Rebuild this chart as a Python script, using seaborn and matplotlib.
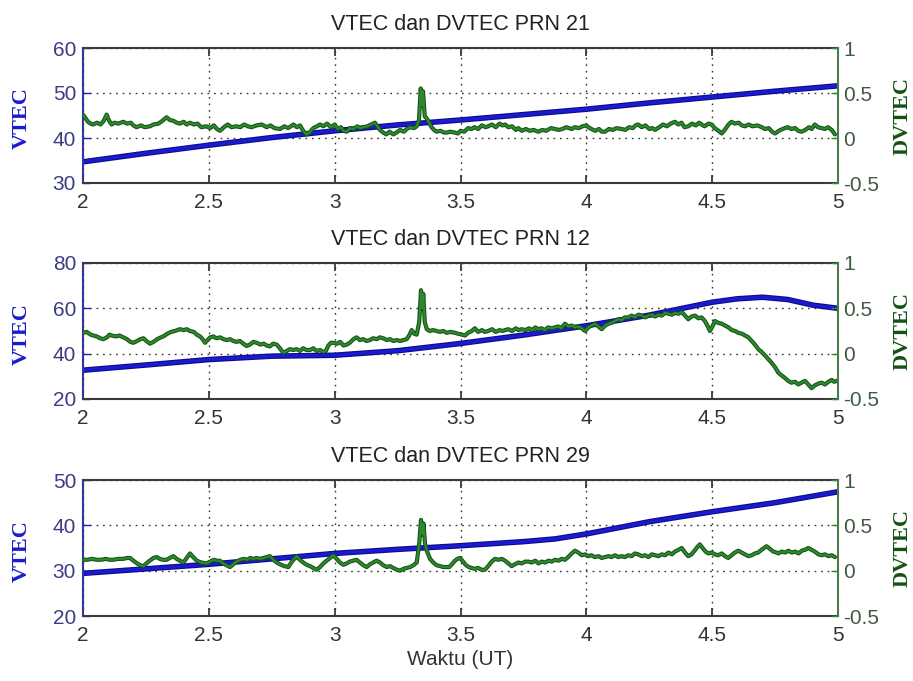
import numpy as np
import pandas as pd
import matplotlib
matplotlib.use("Agg")
import matplotlib.pyplot as plt
import matplotlib.patheffects as pe
import seaborn as sns

# ---------------- data ----------------
titles = ["VTEC dan DVTEC PRN 21", "VTEC dan DVTEC PRN 12", "VTEC dan DVTEC PRN 29"]

# VTEC (left axis)
vtec1_t = [2.0, 2.25, 2.5, 2.75, 3.0, 3.25, 3.5, 3.75, 4.0, 4.25, 4.5, 4.75, 5.0]
vtec1_v = [34.7, 36.6, 38.4, 40.1, 41.6, 42.9, 44.0, 45.2, 46.4, 47.8, 49.1, 50.4, 51.6]

vtec2_t = [2.0, 2.25, 2.5, 2.75, 3.0, 3.25, 3.5, 3.75, 4.0, 4.25, 4.5, 4.6, 4.7, 4.8, 4.9, 5.0]
vtec2_v = [32.7, 35.0, 37.4, 38.9, 39.3, 41.3, 44.5, 48.2, 52.3, 57.0, 62.7, 64.2, 64.9, 63.9, 61.4, 60.0]

vtec3_t = [2.0, 2.25, 2.5, 2.75, 3.0, 3.25, 3.5, 3.75, 3.875, 4.0, 4.25, 4.5, 4.75, 5.0]
vtec3_v = [29.4, 30.4, 31.4, 32.6, 33.8, 34.7, 35.5, 36.4, 37.0, 38.1, 40.8, 43.0, 45.0, 47.4]

# DVTEC (right axis)
dv1_t = [2.0, 2.01, 2.02, 2.03, 2.04, 2.055, 2.07, 2.082, 2.094, 2.104, 2.114, 2.125, 2.14, 2.16,
         2.175, 2.19, 2.2, 2.213, 2.23, 2.245, 2.266, 2.28, 2.3, 2.315, 2.332, 2.345, 2.36, 2.372,
         2.385, 2.4, 2.412, 2.425, 2.44, 2.455, 2.47, 2.49, 2.505, 2.52, 2.532, 2.544, 2.56, 2.575,
         2.59, 2.61, 2.625, 2.64, 2.655, 2.67, 2.69, 2.71, 2.73, 2.745, 2.76, 2.783, 2.8, 2.815,
         2.836, 2.85, 2.862, 2.875, 2.889, 2.9, 2.915, 2.93, 2.942, 2.955, 2.97, 2.985, 3.0, 3.012,
         3.025, 3.035, 3.048, 3.06, 3.075, 3.09, 3.1, 3.114, 3.13, 3.145, 3.16, 3.17, 3.18, 3.193,
         3.205, 3.218, 3.233, 3.245, 3.26, 3.275, 3.286, 3.3, 3.315, 3.326, 3.335, 3.342, 3.347,
         3.351, 3.358, 3.365, 3.372, 3.385, 3.395, 3.405, 3.42, 3.435, 3.445, 3.46, 3.478, 3.49,
         3.5, 3.515, 3.53, 3.544, 3.555, 3.57, 3.585, 3.6, 3.61, 3.625, 3.64, 3.655, 3.667, 3.677,
         3.69, 3.705, 3.72, 3.73, 3.743, 3.76, 3.775, 3.79, 3.809, 3.825, 3.84, 3.86, 3.875, 3.89,
         3.905, 3.92, 3.942, 3.955, 3.97, 3.985, 4.0, 4.008, 4.02, 4.035, 4.05, 4.062, 4.074, 4.09,
         4.105, 4.12, 4.14, 4.155, 4.17, 4.185, 4.195, 4.206, 4.22, 4.235, 4.25, 4.262, 4.273, 4.29,
         4.305, 4.32, 4.335, 4.352, 4.365, 4.378, 4.39, 4.405, 4.42, 4.435, 4.448, 4.458, 4.47,
         4.485, 4.498, 4.51, 4.525, 4.538, 4.55, 4.565, 4.577, 4.59, 4.605, 4.618, 4.63, 4.645,
         4.66, 4.68, 4.697, 4.71, 4.725, 4.738, 4.75, 4.765, 4.78, 4.8, 4.815, 4.83, 4.842, 4.855,
         4.87, 4.885, 4.895, 4.908, 4.92, 4.935, 4.948, 4.96, 4.975, 4.988]
dv1_v = [0.26, 0.22, 0.18, 0.16, 0.15, 0.17, 0.15, 0.19, 0.26, 0.19, 0.15, 0.17, 0.16, 0.18,
         0.16, 0.17, 0.14, 0.12, 0.14, 0.12, 0.13, 0.15, 0.16, 0.19, 0.23, 0.20, 0.19, 0.17,
         0.16, 0.18, 0.15, 0.17, 0.15, 0.16, 0.12, 0.13, 0.11, 0.14, 0.10, 0.08, 0.12, 0.15,
         0.12, 0.13, 0.12, 0.15, 0.13, 0.12, 0.14, 0.15, 0.12, 0.14, 0.11, 0.10, 0.13, 0.11,
         0.15, 0.12, 0.14, 0.08, 0.04, 0.06, 0.11, 0.13, 0.15, 0.13, 0.16, 0.12, 0.15, 0.10,
         0.12, 0.08, 0.07, 0.11, 0.10, 0.13, 0.11, 0.12, 0.13, 0.15, 0.17, 0.13, 0.09, 0.06,
         0.04, 0.07, 0.04, 0.06, 0.09, 0.07, 0.10, 0.12, 0.11, 0.13, 0.20, 0.55, 0.36,
         0.52, 0.24, 0.22, 0.19, 0.12, 0.09, 0.07, 0.08, 0.06, 0.06, 0.07, 0.06, 0.05,
         0.08, 0.07, 0.11, 0.10, 0.12, 0.10, 0.14, 0.12, 0.13, 0.15, 0.12, 0.16, 0.14, 0.15,
         0.12, 0.13, 0.09, 0.11, 0.08, 0.10, 0.08, 0.09, 0.07, 0.09, 0.08, 0.11, 0.10, 0.09,
         0.10, 0.12, 0.10, 0.12, 0.11, 0.13, 0.14, 0.12, 0.10, 0.08, 0.10, 0.07, 0.07, 0.10,
         0.09, 0.11, 0.10, 0.09, 0.12, 0.11, 0.14, 0.15, 0.12, 0.14, 0.10, 0.11, 0.09, 0.12,
         0.15, 0.13, 0.16, 0.18, 0.15, 0.17, 0.12, 0.13, 0.16, 0.14, 0.17, 0.15, 0.13,
         0.16, 0.15, 0.11, 0.08, 0.05, 0.09, 0.15, 0.18, 0.16, 0.17, 0.14, 0.13, 0.15,
         0.13, 0.14, 0.12, 0.10, 0.11, 0.07, 0.05, 0.08, 0.10, 0.12, 0.10, 0.11, 0.08, 0.07,
         0.09, 0.12, 0.10, 0.15, 0.12, 0.11, 0.10, 0.12, 0.09, 0.04]

dv2_t = [2.0, 2.015, 2.03, 2.041, 2.055, 2.068, 2.081, 2.095, 2.105, 2.114, 2.13, 2.145, 2.16,
         2.175, 2.188, 2.2, 2.215, 2.228, 2.24, 2.252, 2.266, 2.28, 2.295, 2.31, 2.319, 2.335,
         2.35, 2.365, 2.385, 2.4, 2.412, 2.425, 2.44, 2.452, 2.465, 2.475, 2.485, 2.495, 2.505,
         2.518, 2.53, 2.545, 2.558, 2.572, 2.585, 2.597, 2.61, 2.623, 2.637, 2.65, 2.663, 2.677,
         2.69, 2.705, 2.718, 2.73, 2.743, 2.755, 2.77, 2.782, 2.796, 2.81, 2.822, 2.835, 2.849,
         2.862, 2.875, 2.888, 2.902, 2.915, 2.928, 2.942, 2.955, 2.965, 2.975, 2.985, 2.995,
         3.01, 3.022, 3.035, 3.048, 3.06, 3.075, 3.087, 3.1, 3.113, 3.127, 3.14, 3.153, 3.167,
         3.18, 3.193, 3.207, 3.22, 3.233, 3.247, 3.26, 3.273, 3.286, 3.296, 3.306, 3.316, 3.326,
         3.336, 3.343, 3.348, 3.352, 3.358, 3.366, 3.378, 3.39, 3.405, 3.418, 3.432, 3.445,
         3.46, 3.478, 3.49, 3.505, 3.518, 3.53, 3.545, 3.557, 3.57, 3.585, 3.597, 3.61, 3.625,
         3.64, 3.655, 3.667, 3.677, 3.69, 3.705, 3.72, 3.73, 3.743, 3.758, 3.772, 3.785, 3.797,
         3.809, 3.822, 3.835, 3.848, 3.862, 3.875, 3.888, 3.9, 3.915, 3.928, 3.942, 3.955,
         3.968, 3.982, 3.995, 4.008, 4.02, 4.034, 4.048, 4.061, 4.075, 4.088, 4.1, 4.114,
         4.127, 4.14, 4.153, 4.167, 4.18, 4.193, 4.207, 4.22, 4.233, 4.247, 4.26, 4.273, 4.287,
         4.3, 4.313, 4.326, 4.34, 4.353, 4.366, 4.379, 4.392, 4.405, 4.418, 4.432, 4.445,
         4.458, 4.471, 4.481, 4.491, 4.501, 4.511, 4.524, 4.538, 4.551, 4.565, 4.578, 4.591,
         4.604, 4.618, 4.631, 4.644, 4.657, 4.67, 4.683, 4.696, 4.71, 4.723, 4.736, 4.75,
         4.763, 4.776, 4.79, 4.802, 4.815, 4.829, 4.842, 4.855, 4.869, 4.882, 4.895, 4.908,
         4.922, 4.935, 4.948, 4.962, 4.975, 4.985, 4.995]
dv2_v = [0.23, 0.24, 0.21, 0.20, 0.19, 0.17, 0.16, 0.18, 0.21, 0.20, 0.19, 0.20, 0.18,
         0.16, 0.13, 0.12, 0.14, 0.16, 0.17, 0.14, 0.11, 0.13, 0.16, 0.18, 0.19, 0.22,
         0.24, 0.25, 0.27, 0.26, 0.27, 0.25, 0.24, 0.21, 0.19, 0.16, 0.12, 0.15, 0.18,
         0.19, 0.17, 0.18, 0.16, 0.15, 0.16, 0.14, 0.13, 0.14, 0.11, 0.085, 0.10, 0.13,
         0.12, 0.10, 0.11, 0.09, 0.08, 0.11, 0.10, 0.06, 0.01, 0.03, 0.05, 0.04, 0.05,
         0.03, 0.06, 0.04, 0.04, 0.06, 0.03, 0.04, 0.02, 0.03, 0.09, 0.12, 0.12,
         0.11, 0.13, 0.09, 0.10, 0.12, 0.16, 0.18, 0.15, 0.16, 0.14, 0.15, 0.17, 0.16,
         0.18, 0.17, 0.15, 0.16, 0.14, 0.15, 0.14, 0.15, 0.16, 0.20, 0.26, 0.22, 0.21,
         0.35, 0.70, 0.50, 0.66, 0.35, 0.27, 0.25, 0.26, 0.25, 0.24, 0.25, 0.23,
         0.24, 0.23, 0.22, 0.21, 0.20, 0.23, 0.25, 0.28, 0.24, 0.26, 0.24, 0.25, 0.27,
         0.24, 0.26, 0.25, 0.26, 0.27, 0.25, 0.28, 0.26, 0.27, 0.26, 0.28, 0.26, 0.29,
         0.27, 0.28, 0.26, 0.29, 0.28, 0.29, 0.30, 0.28, 0.33, 0.30, 0.31, 0.29,
         0.30, 0.28, 0.25, 0.29, 0.31, 0.33, 0.30, 0.27, 0.31, 0.33, 0.34, 0.36,
         0.38, 0.37, 0.40, 0.40, 0.42, 0.40, 0.43, 0.42, 0.40, 0.42, 0.43, 0.41, 0.43,
         0.42, 0.45, 0.44, 0.43, 0.45, 0.44, 0.46, 0.42, 0.38, 0.41, 0.42, 0.39,
         0.40, 0.36, 0.31, 0.25, 0.30, 0.36, 0.34, 0.33, 0.31, 0.29, 0.26, 0.25,
         0.23, 0.22, 0.20, 0.18, 0.14, 0.10, 0.05, 0.02, -0.02, -0.06, -0.10, -0.15,
         -0.21, -0.24, -0.27, -0.30, -0.32, -0.31, -0.34, -0.32, -0.30, -0.34, -0.38, -0.35,
         -0.33, -0.32, -0.34, -0.31, -0.29, -0.31, -0.30]

dv3_t = [2.0, 2.018, 2.036, 2.054, 2.072, 2.09, 2.105, 2.12, 2.14, 2.16, 2.175, 2.187, 2.2,
         2.215, 2.228, 2.24, 2.252, 2.265, 2.28, 2.293, 2.305, 2.318, 2.332, 2.345, 2.359,
         2.372, 2.385, 2.399, 2.412, 2.425, 2.438, 2.452, 2.47, 2.491, 2.505, 2.52, 2.532,
         2.544, 2.556, 2.57, 2.584, 2.597, 2.61, 2.625, 2.64, 2.652, 2.664, 2.677, 2.69,
         2.703, 2.717, 2.73, 2.743, 2.756, 2.77, 2.783, 2.8, 2.816, 2.83, 2.849, 2.862,
         2.875, 2.889, 2.902, 2.915, 2.928, 2.942, 2.955, 2.968, 2.982, 2.995, 3.008, 3.021,
         3.034, 3.048, 3.06, 3.074, 3.087, 3.1, 3.114, 3.127, 3.14, 3.153, 3.167, 3.18, 3.193,
         3.207, 3.22, 3.233, 3.247, 3.26, 3.273, 3.286, 3.3, 3.313, 3.326, 3.336, 3.343,
         3.348, 3.353, 3.359, 3.366, 3.379, 3.392, 3.405, 3.418, 3.432, 3.445, 3.455, 3.466,
         3.478, 3.488, 3.498, 3.51, 3.522, 3.533, 3.544, 3.557, 3.57, 3.584, 3.597, 3.61,
         3.624, 3.637, 3.65, 3.664, 3.677, 3.69, 3.703, 3.716, 3.73, 3.743, 3.757, 3.77, 3.783,
         3.797, 3.81, 3.823, 3.836, 3.85, 3.862, 3.876, 3.889, 3.902, 3.915, 3.928, 3.942,
         3.955, 3.968, 3.982, 3.995, 4.008, 4.02, 4.034, 4.048, 4.061, 4.074, 4.088, 4.1,
         4.114, 4.127, 4.14, 4.153, 4.167, 4.18, 4.193, 4.206, 4.22, 4.233, 4.247, 4.26,
         4.273, 4.287, 4.3, 4.313, 4.326, 4.34, 4.352, 4.366, 4.379, 4.392, 4.405, 4.418,
         4.43, 4.441, 4.451, 4.462, 4.474, 4.485, 4.498, 4.511, 4.524, 4.538, 4.551, 4.564,
         4.577, 4.59, 4.604, 4.617, 4.63, 4.644, 4.657, 4.67, 4.683, 4.696, 4.706, 4.716,
         4.73, 4.743, 4.756, 4.763, 4.776, 4.79, 4.803, 4.816, 4.83, 4.843, 4.856, 4.869,
         4.882, 4.895, 4.908, 4.922, 4.935, 4.948, 4.962, 4.975, 4.988]
dv3_v = [0.12, 0.12, 0.13, 0.12, 0.12, 0.13, 0.12, 0.12, 0.13, 0.13, 0.14, 0.14, 0.11,
         0.08, 0.06, 0.05, 0.08, 0.11, 0.14, 0.15, 0.13, 0.12, 0.12, 0.14, 0.16,
         0.13, 0.11, 0.09, 0.14, 0.19, 0.15, 0.11, 0.09, 0.08, 0.10, 0.12, 0.11,
         0.11, 0.08, 0.06, 0.04, 0.07, 0.10, 0.12, 0.13, 0.12, 0.14, 0.13, 0.14,
         0.13, 0.14, 0.15, 0.16, 0.12, 0.09, 0.07, 0.05, 0.04, 0.10, 0.16, 0.12,
         0.09, 0.065, 0.05, 0.03, 0.01, 0.04, 0.08, 0.11, 0.14, 0.17, 0.13, 0.09,
         0.065, 0.08, 0.10, 0.11, 0.12, 0.09, 0.06, 0.04, 0.07, 0.09, 0.11, 0.09, 0.06,
         0.04, 0.05, 0.03, 0.01, 0.0, 0.02, 0.03, 0.04, 0.06, 0.09, 0.30, 0.56,
         0.40, 0.52, 0.30, 0.22, 0.13, 0.09, 0.06, 0.05, 0.04, 0.04, 0.04, 0.07,
         0.11, 0.13, 0.14, 0.10, 0.06, 0.04, 0.03, 0.02, 0.03, 0.01, 0.01, 0.05,
         0.10, 0.13, 0.12, 0.13, 0.11, 0.08, 0.05, 0.07, 0.09, 0.08, 0.10, 0.10, 0.09,
         0.11, 0.08, 0.10, 0.09, 0.11, 0.10, 0.12, 0.11, 0.13, 0.12, 0.15, 0.19,
         0.22, 0.20, 0.17, 0.18, 0.16, 0.17, 0.15, 0.16, 0.14, 0.15, 0.16, 0.15,
         0.17, 0.15, 0.16, 0.15, 0.17, 0.16, 0.19, 0.18, 0.16, 0.17, 0.15, 0.18,
         0.17, 0.16, 0.18, 0.17, 0.20, 0.18, 0.21, 0.23, 0.25, 0.20, 0.16, 0.18,
         0.22, 0.26, 0.29, 0.25, 0.21, 0.19, 0.20, 0.18, 0.17, 0.19, 0.16, 0.14,
         0.17, 0.20, 0.22, 0.20, 0.18, 0.16, 0.17, 0.19, 0.20, 0.23, 0.25, 0.27,
         0.24, 0.21, 0.20, 0.19, 0.21, 0.20, 0.22, 0.20, 0.21, 0.19, 0.22, 0.23,
         0.25, 0.23, 0.21, 0.18, 0.17, 0.18, 0.16, 0.17, 0.15]

vtec_lims = [(30, 60), (20, 80), (20, 50)]
vtec_ticks = [[30, 40, 50, 60], [20, 40, 60, 80], [20, 30, 40, 50]]
dv_ticks = [-0.5, 0, 0.5, 1]
dv_ticklabels = ["-0.5", "0", "0.5", "1"]
x_ticks = [2, 2.5, 3, 3.5, 4, 4.5, 5]
x_ticklabels = ["2", "2.5", "3", "3.5", "4", "4.5", "5"]

vtec_sets = [(vtec1_t, vtec1_v), (vtec2_t, vtec2_v), (vtec3_t, vtec3_v)]
dv_sets = [(dv1_t, dv1_v), (dv2_t, dv2_v), (dv3_t, dv3_v)]

# ---------------- style ----------------
sns.set_theme(style="white")
plt.rcParams["font.family"] = ["Liberation Sans", "DejaVu Sans"]

BLUE = "#1a1ad0"
BLUE_DARK = "#0c0c8a"
GREEN = "#2e8a2e"
GREEN_DARK = "#145214"
LBLUE_TXT = "#3c3c86"
RGREEN_TXT = "#3f5a40"
SPINE = "#3a3a3a"

fig = plt.figure(figsize=(9.13, 6.81), dpi=100)
fig.patch.set_facecolor("white")

W, H = 913.0, 681.0
left_px, right_px = 83, 838
panels_px = [(48, 183), (263, 399), (480, 616)]

for i in range(3):
    top, bot = panels_px[i]
    rect = [left_px / W, 1 - bot / H, (right_px - left_px) / W, (bot - top) / H]
    ax = fig.add_axes(rect)
    ax2 = ax.twinx()

    vt, vv = vtec_sets[i]
    dt, dvv = dv_sets[i]
    df_v = pd.DataFrame({"t": vt, "v": vv})
    df_d = pd.DataFrame({"t": dt, "d": dvv})

    sns.lineplot(data=df_v, x="t", y="v", ax=ax, color=BLUE, linewidth=2.4,
                 estimator=None, sort=False)
    sns.lineplot(data=df_d, x="t", y="d", ax=ax2, color=GREEN, linewidth=1.5,
                 estimator=None, sort=False)
    for ln in ax.get_lines():
        ln.set_path_effects([pe.Stroke(linewidth=4.0, foreground=BLUE_DARK), pe.Normal()])
    for ln in ax2.get_lines():
        ln.set_path_effects([pe.Stroke(linewidth=3.0, foreground=GREEN_DARK), pe.Normal()])

    ax.set_xlim(2, 5)
    ax.set_ylim(*vtec_lims[i])
    ax2.set_ylim(-0.5, 1)
    ax.set_xticks(x_ticks)
    ax.set_xticklabels(x_ticklabels)
    ax.set_yticks(vtec_ticks[i])
    ax.set_yticklabels([str(v) for v in vtec_ticks[i]])
    ax2.set_yticks(dv_ticks)
    ax2.set_yticklabels(dv_ticklabels)

    ax.grid(True, linestyle=(0, (1.2, 3.5)), color="#333333", linewidth=1.0)
    ax2.grid(False)

    ax.tick_params(axis="x", direction="in", length=6, width=1.3, top=True,
                   bottom=True, colors=SPINE, labelsize=15, pad=7, labelcolor="#333333")
    ax.tick_params(axis="y", direction="in", length=5, width=1.0, left=True,
                   right=False, colors=BLUE, labelsize=15, pad=5, labelcolor=LBLUE_TXT)
    ax2.tick_params(axis="y", direction="in", length=5, width=1.0, right=True,
                    colors=GREEN, labelsize=15, pad=4, labelcolor=RGREEN_TXT)

    for s in ["top", "bottom"]:
        ax.spines[s].set_color(SPINE)
        ax.spines[s].set_linewidth(1.5)
    ax.spines["left"].set_color("#3535a0")
    ax.spines["left"].set_linewidth(1.5)
    ax.spines["right"].set_visible(False)
    for s in ["top", "bottom", "left"]:
        ax2.spines[s].set_visible(False)
    ax2.spines["right"].set_color("#4a7a4a")
    ax2.spines["right"].set_linewidth(1.5)

    ax.set_xlabel("")
    ax.set_ylabel("VTEC", family=["Liberation Serif", "DejaVu Serif"],
                  fontweight="bold", fontsize=16, color=BLUE)
    ax.yaxis.set_label_coords(-0.068, 0.48)
    ax2.set_ylabel("DVTEC", family=["Liberation Serif", "DejaVu Serif"],
                   fontweight="bold", fontsize=16, color=GREEN_DARK, rotation=90)
    ax2.yaxis.set_label_coords(1.072, 0.5)

    ax.set_title(titles[i], fontsize=15.5, color="#222222", pad=13)

    if i == 2:
        ax.set_xlabel("Waktu (UT)", fontsize=15, color="#333333", labelpad=4)

fig.savefig("out.png", dpi=100, facecolor="white")
